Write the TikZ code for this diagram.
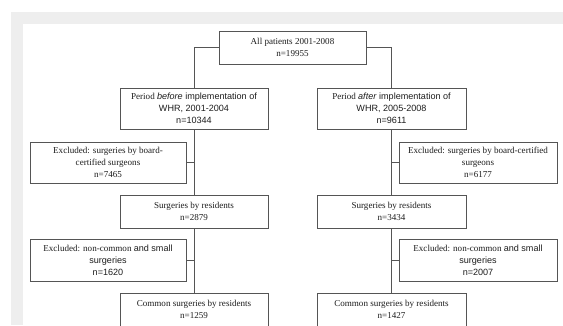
\documentclass[tikz,border=0pt]{standalone}
\usepackage{fontspec}
\setmainfont{Liberation Serif}
\setsansfont{Liberation Sans}
\usepackage{tikz}
\usepackage{color}

\begin{document}
\begin{tikzpicture}[x=0.75pt,y=0.75pt,yscale=-1,xscale=1,
  box/.style 2 args={draw={rgb, 255:red, 85; green, 85; blue, 85}, line width=0.75, rectangle, inner sep=0, align=center,
    minimum width=#1*0.75pt, minimum height=#2*0.75pt,
    font=\fontsize{6.8}{8.9}\selectfont, text={rgb, 255:red, 30; green, 30; blue, 30}},
  link/.style={draw={rgb, 255:red, 85; green, 85; blue, 85}, line width=0.75}]
\clip (0,0) rectangle (563,325);

%Shape: Rectangle (page frame)
\fill [color={rgb, 255:red, 238; green, 238; blue, 238}] (11,12) rectangle (563,325);
\fill [white] (23,24) rectangle (563,325);

% Text Node
\draw (292.5,47.5) node (all) [box={147}{33}] {All patients 2001-2008\\n=19955};
% Text Node
\draw (194,108.5) node (before) [box={148}{41}] {Period \textsf{\textit{before} implementation of}\\\textsf{WHR, 2001-2004}\\\textsf{n=10344}};
% Text Node
\draw (391.5,108.5) node (after) [box={149}{41}] {Period \textsf{\textit{after} implementation of}\\\textsf{WHR, 2005-2008}\\\textsf{n=9611}};
% Text Node
\draw (108,162.5) node (exbefore) [box={156}{41}] {Excluded: surgeries by board-\\certified surgeons\\n=7465};
% Text Node
\draw (478,162.5) node (exafter) [box={158}{41}] {Excluded: surgeries by board-certified\\surgeons\\n=6177};
% Text Node
\draw (194,211.5) node (resbefore) [box={148}{33}] {Surgeries by residents\\n=2879};
% Text Node
\draw (391.5,211.5) node (resafter) [box={149}{33}] {Surgeries by residents\\n=3434};
% Text Node
\draw (108,260) node (smbefore) [box={156}{42}] {Excluded: non-common \textsf{and small}\\\textsf{surgeries}\\\textsf{n=1620}};
% Text Node
\draw (478,260) node (smafter) [box={158}{42}] {Excluded: non-common \textsf{and small}\\\textsf{surgeries}\\\textsf{n=2007}};
% Text Node
\draw (194,309.5) node (combefore) [box={148}{33}] {Common surgeries by residents\\n=1259};
% Text Node
\draw (391.5,309.5) node (comafter) [box={149}{33}] {Common surgeries by residents\\n=1427};

%Straight Lines
\draw [link] (all.west) -| (before.north);
\draw [link] (all.east) -| (after.north);
%Straight Lines
\draw [link] (before.south) -- (resbefore.north);
\draw [link] (exbefore.east) -- (exbefore.east -| before.south);
\draw [link] (after.south) -- (resafter.north);
\draw [link] (exafter.west) -- (exafter.west -| after.south);
%Straight Lines
\draw [link] (resbefore.south) -- (combefore.north);
\draw [link] (smbefore.east) -- (smbefore.east -| resbefore.south);
\draw [link] (resafter.south) -- (comafter.north);
\draw [link] (smafter.west) -- (smafter.west -| resafter.south);

\end{tikzpicture}
\end{document}
